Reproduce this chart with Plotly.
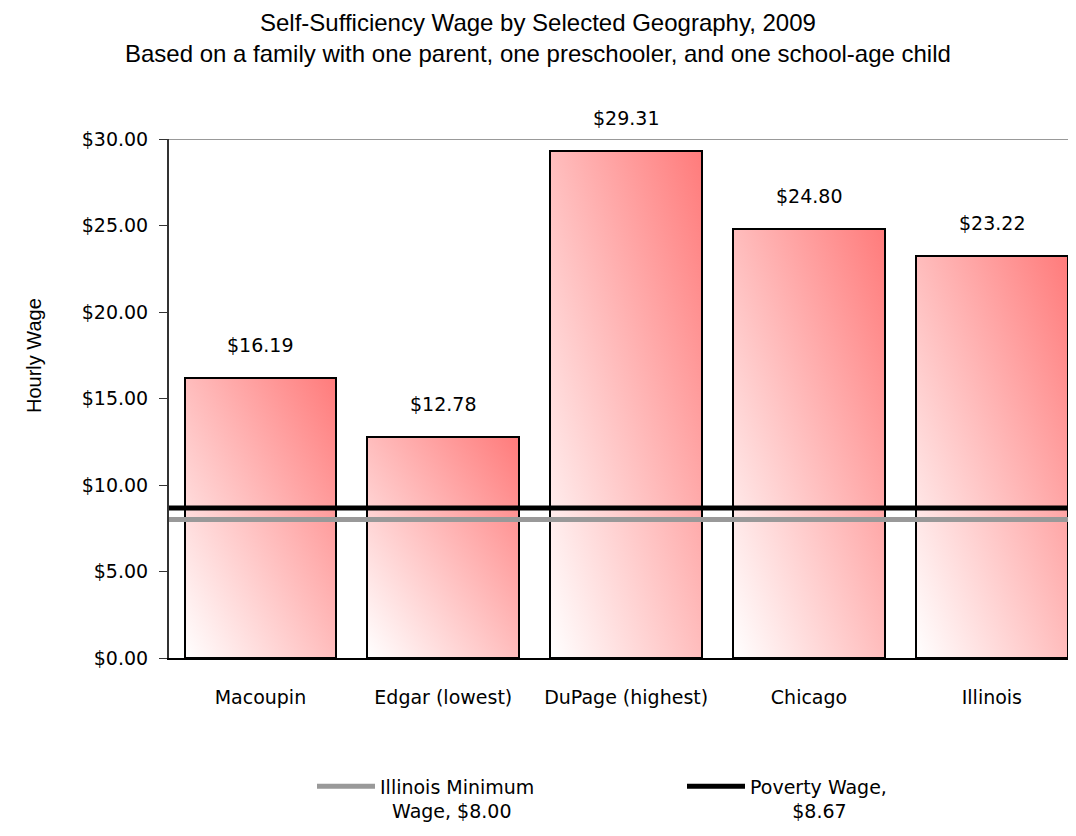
import base64
import plotly.graph_objects as go

# ---- data ----
categories = ["Macoupin", "Edgar (lowest)", "DuPage (highest)", "Chicago", "Illinois"]
wages = [16.19, 12.78, 29.31, 24.80, 23.22]
min_wage_name = "Illinois Minimum<br>\u00a0\u00a0Wage, $8.00"
min_wage = 8.00
poverty_name = "Poverty Wage,<br>" + "\u00a0" * 7 + "$8.67"
poverty_wage = 8.67
y_ticks = [0, 5, 10, 15, 20, 25, 30]
y_ticktext = ["$0.00", "$5.00", "$10.00", "$15.00", "$20.00", "$25.00", "$30.00"]

# ---- layout constants (page body has an 8px margin, so sizes are offset) ----
W, H = 1068, 828
ML, MR, MT, MB = 161, 0, 131, 178
PW, PH = W - ML - MR, H - MT - MB
x_range = [-0.5, 4.46]
y_range = [0, 30]
bar_w = 0.83
tick_font = dict(family="DejaVu Sans", size=19, color="#000000")

# gradient fill (white lower-left -> salmon upper-right)
svg = ('<svg xmlns="http://www.w3.org/2000/svg" width="100" height="100" viewBox="0 0 100 100" '
       'preserveAspectRatio="none"><defs><linearGradient id="g" x1="0" y1="1" x2="1" y2="0">'
       '<stop offset="0" stop-color="#ffffff"/><stop offset="1" stop-color="#ff7b7b"/>'
       '</linearGradient></defs><rect x="0" y="0" width="100" height="100" fill="url(#g)"/></svg>')
grad_uri = "data:image/svg+xml;base64," + base64.b64encode(svg.encode()).decode()

xs = list(range(len(categories)))

fig = go.Figure()
fig.add_trace(go.Bar(
    x=xs, y=wages, width=bar_w,
    marker=dict(color="rgba(0,0,0,0)", line=dict(color="#000000", width=2)),
    showlegend=False, hoverinfo="y",
))
fig.add_trace(go.Scatter(
    x=x_range, y=[min_wage, min_wage], mode="lines",
    line=dict(color="#999999", width=5), name=min_wage_name,
))
fig.add_trace(go.Scatter(
    x=x_range, y=[poverty_wage, poverty_wage], mode="lines",
    line=dict(color="#000000", width=5), name=poverty_name,
))

images = []
annotations = []
for i, v in zip(xs, wages):
    images.append(dict(
        source=grad_uri, xref="x", yref="y",
        x=i - bar_w / 2, y=v, sizex=bar_w, sizey=v,
        xanchor="left", yanchor="top", sizing="stretch", layer="below",
    ))
    annotations.append(dict(
        x=i, y=v, xref="x", yref="y", text=f"${v:.2f}", showarrow=False,
        yanchor="middle", yshift=33, font=tick_font,
    ))

annotations.append(dict(
    text="Hourly Wage", xref="paper", yref="paper",
    x=(26 - ML) / PW, y=1 - (348 - MT) / PH,
    textangle=-90, showarrow=False, xanchor="center", yanchor="middle",
    font=dict(family="Liberation Sans, Arial", size=20, color="#000000"),
))
annotations.append(dict(
    text="Self-Sufficiency Wage by Selected Geography, 2009<br>"
         "Based on a family with one parent, one preschooler, and one school-age child",
    xref="paper", yref="paper", x=(529.5 - ML) / PW, y=1 + (MT - 29.5) / PH,
    xanchor="center", yanchor="middle", showarrow=False, align="center",
    font=dict(family="Liberation Sans, Arial", size=24, color="#000000"),
))

fig.update_layout(
    width=W, height=H,
    margin=dict(l=ML, r=MR, t=MT, b=MB, pad=0, autoexpand=False),
    paper_bgcolor="#ffffff", plot_bgcolor="rgba(0,0,0,0)",
    xaxis=dict(
        range=x_range, tickvals=xs, ticktext=categories, showgrid=False, zeroline=False,
        showline=True, linecolor="#000000", linewidth=2, ticks="",
        tickfont=tick_font, ticklabelstandoff=21, fixedrange=True, automargin=False,
    ),
    yaxis=dict(
        range=y_range, tickvals=y_ticks, ticktext=y_ticktext,
        showgrid=False, zeroline=False, showline=True, linecolor="#333333", linewidth=2,
        ticks="outside", ticklen=8, tickwidth=1, tickcolor="#333333",
        tickfont=tick_font, ticklabelstandoff=7, automargin=False,
    ),
    shapes=[dict(type="line", xref="paper", yref="y", x0=0, x1=1,
                 y0=y_range[1], y1=y_range[1], line=dict(color="#999999", width=2))],
    images=images,
    annotations=annotations,
    legend=dict(
        orientation="h", xref="container", yref="container",
        x=304 / W, xanchor="left", y=1 - 759.5 / H, yanchor="top",
        font=tick_font, valign="top", itemwidth=58,
        entrywidth=297, entrywidthmode="pixels",
        bgcolor="rgba(0,0,0,0)", traceorder="normal",
    ),
    bargap=0.0,
)

fig.write_html("out.html")
